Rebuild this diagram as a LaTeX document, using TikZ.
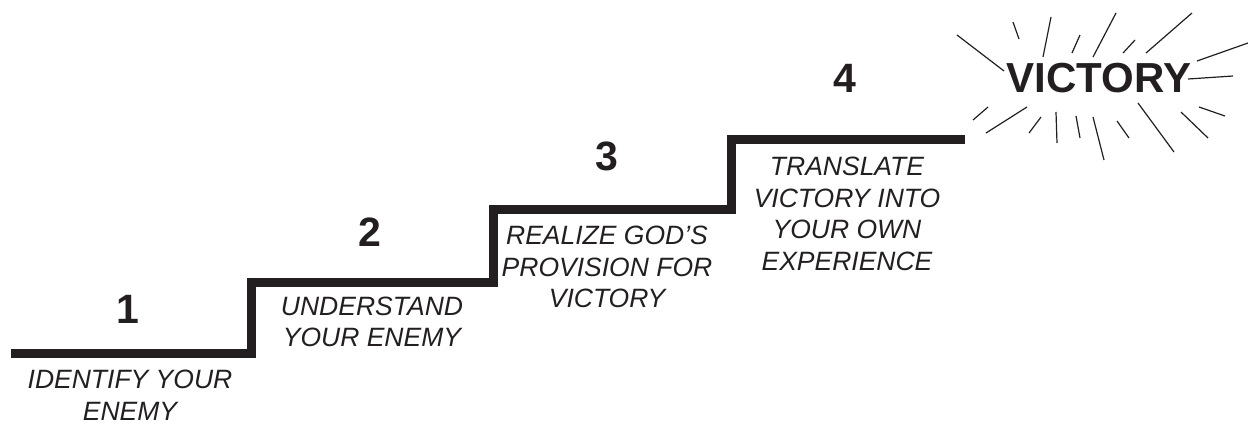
\documentclass[tikz,border=0pt]{standalone}
\usepackage{fontspec}
\setmainfont{Liberation Sans}
\definecolor{ink}{HTML}{231F20}
\begin{document}
\begin{tikzpicture}[x=1pt, y=-1pt,
    num/.style={inner sep=0pt, text=ink, font=\fontsize{41}{41}\selectfont\bfseries},
    label/.style={inner sep=0pt, align=center, text=ink, font=\fontsize{26.5}{31.5}\selectfont\itshape},
    stair/.style={draw=ink, line width=9pt, line join=miter},
    ray/.style={draw=ink, line width=1.2pt}]
    \useasboundingbox (0, 0) rectangle (1248, 424);

    %Nodes
    \node[num] at (128, 309) (n1) {1};
    \node[num] at (370, 232) (n2) {2};
    \node[num] at (607, 156) (n3) {3};
    \node[num] at (845, 78) (n4) {4};

    \node[label] at (130, 395) (s1) {IDENTIFY YOUR\\ENEMY};
    \node[label] at (372, 322) (s2) {UNDERSTAND\\YOUR ENEMY};
    \node[label] at (607, 267) (s3) {REALIZE GOD’S\\PROVISION FOR\\VICTORY};
    \node[label] at (847, 214) (s4) {TRANSLATE\\VICTORY INTO\\YOUR OWN\\EXPERIENCE};

    \node[inner sep=0pt, text=ink, font=\fontsize{42}{42}\selectfont\bfseries] at (1099, 78) (v) {VICTORY};

    %Lines
    \draw[stair] (11, 353) -- (251, 353) -- (251, 282) -- (493, 282) -- (493, 209)
        -- (731, 209) -- (731, 139) -- (965, 139);

    \foreach \xa/\ya/\xb/\yb in {957/35/1004/71, 1013/22/1019/39, 1051/17/1043/57,
        1080/35/1072/53, 1116/13/1093/57, 1135/40/1123/53, 1192/13/1146/53,
        1248/43/1197/61, 1233/76/1188/79, 1199/107/1225/116, 1181/112/1208/138,
        1138/103/1174/152, 1117/121/1129/138, 1093/117/1104/160, 1076/116/1080/138,
        1056/112/1057/143, 1041/117/1029/133, 1027/107/986/133, 988/107/973/120}
        \draw[ray] (\xa, \ya) -- (\xb, \yb);

\end{tikzpicture}
\end{document}
